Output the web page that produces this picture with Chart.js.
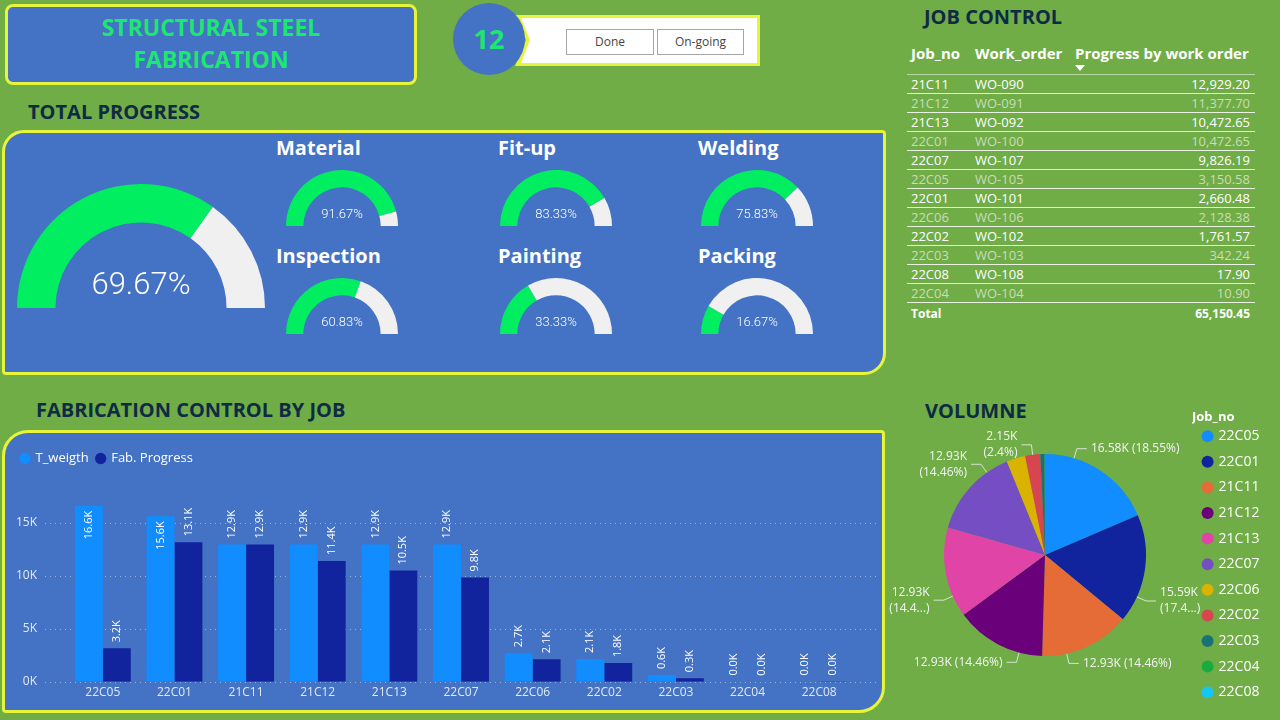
<!DOCTYPE html>
<html>
<head>
<meta charset="utf-8">
<script src="https://cdn.jsdelivr.net/npm/chart.js@4.4.1/dist/chart.umd.min.js"></script>
<style>
  body { margin:0; width:1280px; height:720px; background:#70ad47; position:relative; overflow:hidden; font-family:"Open Sans", sans-serif; }
  .panel { position:absolute; background:#4472c4; border:3px solid #e6f43a; box-sizing:border-box; }
  .head { position:absolute; color:#0f2a44; font-weight:700; font-size:20px; white-space:nowrap; line-height:24px; }
  .lbl { position:absolute; color:#fff; font-weight:700; font-size:20px; line-height:24px; white-space:nowrap; }
  canvas { position:absolute; }
  #title { left:5px; top:4px; width:412px; height:81px; border-radius:8px; color:#1de770; font-weight:700; font-size:23px; line-height:32px; text-align:center; padding-top:4px; }
  #count { position:absolute; left:453px; top:3px; width:72px; height:72px; border-radius:50%; background:#4472c4; color:#1de770; font-weight:700; font-size:27px; line-height:72px; text-align:center; }
  .btn { position:absolute; top:29px; height:26px; box-sizing:border-box; border:1px solid #a6a6a6; background:#fff; color:#444; font-size:12px; line-height:24px; text-align:center; }
  #jobTable { position:absolute; left:907px; top:41px; width:348px; border-collapse:collapse; color:#fff; font-size:13px; }
  #jobTable th { font-weight:700; font-size:15px; text-align:left; height:31px; vertical-align:top; padding:2px 0 0 4px; border-bottom:1px solid rgba(255,255,255,0.5); white-space:nowrap; }
  #jobTable td { height:18px; line-height:18px; padding:0 4px; border-bottom:1px solid rgba(255,255,255,0.85); white-space:nowrap; }
  #jobTable tr.alt td { color:#c9dcbb; }
  #jobTable tr.total td { font-weight:700; border-bottom:none; height:22px; font-size:12px; }
  #jobTable td.num { text-align:right; padding-right:5px; }
  #sortArrow { position:absolute; left:1075px; top:65px; width:0; height:0; border-left:5px solid transparent; border-right:5px solid transparent; border-top:6px solid #fff; }
</style>
</head>
<body>

<div id="title" class="panel">STRUCTURAL STEEL<br>FABRICATION</div>
<svg style="position:absolute;left:0;top:0" width="800" height="80">
  <polygon points="515,15 760,15 760,66 515,66 526,40" fill="#e6f43a"/>
  <polygon points="521,18 757,18 757,63 521,63 530,40" fill="#fff"/>
</svg>
<div id="count">12</div>
<div class="btn" style="left:566px;width:88px">Done</div>
<div class="btn" style="left:657px;width:87px">On-going</div>

<div class="head" style="left:28px;top:100px">TOTAL PROGRESS</div>
<div class="panel" style="left:2px;top:130px;width:884px;height:245px;border-radius:22px 4px 22px 4px"></div>

<div class="head" style="left:36px;top:398px">FABRICATION CONTROL BY JOB</div>
<div class="panel" style="left:2px;top:430px;width:883px;height:283px;border-radius:26px 4px 26px 4px"></div>

<div class="head" style="left:924px;top:5px">JOB CONTROL</div>
<div class="head" style="left:925px;top:399px">VOLUMNE</div>

<canvas id="gaugeTotal" width="248" height="124" style="left:17px;top:184px"></canvas>
<div id="gaugeBox"></div>

<canvas id="barChart" width="877" height="279" style="left:5px;top:440px"></canvas>
<canvas id="pieChart" width="402" height="318" style="left:878px;top:396px"></canvas>

<table id="jobTable"></table>
<div id="sortArrow"></div>

<script>
// ---- data ----
const totalProgress = 69.67;
const gaugeNames = ['Material', 'Fit-up', 'Welding', 'Inspection', 'Painting', 'Packing'];
const gaugeValues = [91.67, 83.33, 75.83, 60.83, 33.33, 16.67];

const jobs = ['22C05', '22C01', '21C11', '21C12', '21C13', '22C07', '22C06', '22C02', '22C03', '22C04', '22C08'];
const tWeight = [16580, 15590, 12929.2, 12929.2, 12929.2, 12929.2, 2690, 2148, 630, 18, 20];
const fabProgress = [3150.58, 13133.13, 12929.2, 11377.7, 10472.65, 9826.19, 2128.38, 1761.57, 342.24, 10.9, 17.9];
const yTicks = [0, 5000, 10000, 15000];
const yMax = 17500;

const tableJobs = ['21C11', '21C12', '21C13', '22C01', '22C07', '22C05', '22C01', '22C06', '22C02', '22C03', '22C08', '22C04'];
const tableOrders = ['WO-090', 'WO-091', 'WO-092', 'WO-100', 'WO-107', 'WO-105', 'WO-101', 'WO-106', 'WO-102', 'WO-103', 'WO-108', 'WO-104'];
const tableProgress = [12929.20, 11377.70, 10472.65, 10472.65, 9826.19, 3150.58, 2660.48, 2128.38, 1761.57, 342.24, 17.90, 10.90];
const tableTotal = 65150.45;

// pie uses T_weigth per job
const pieColors = ['#118dff', '#12239e', '#e66c37', '#6b007b', '#e044a7', '#744ec2', '#d9b300', '#d64550', '#197278', '#1aab40', '#15c6f4'];
// which slices get an outside label, and how it is written
const pieLabelMode = ['one', 'cut', 'one', 'one', 'cut', 'two', null, 'two', null, null, null];
const pieLabelAnchor = [0.25, 0.76, 0.73, 0.255, 0.236, 0.75, null, 0.5, null, null, null];

Chart.defaults.font.family = '"Open Sans", sans-serif';
Chart.defaults.animation = false;

const green = '#00ee5f';
const rest = '#f0f0f0';

// ---- gauges ----
const gaugeText = {
  id: 'gaugeText',
  afterDraw(chart, args, opts) {
    const arc = chart.getDatasetMeta(0).data[0];
    const ctx = chart.ctx;
    ctx.save();
    ctx.font = '300 ' + opts.size + 'px Roboto, sans-serif';
    ctx.fillStyle = '#fff';
    ctx.textAlign = 'center';
    ctx.textBaseline = 'middle';
    ctx.fillText(chart.data.datasets[0].data[0].toFixed(2) + '%', arc.x, arc.y - opts.dy);
    ctx.restore();
  }
};

function makeGauge(canvas, value, size, dy) {
  return new Chart(canvas, {
    type: 'doughnut',
    data: { datasets: [{ data: [value, 100 - value], backgroundColor: [green, rest], borderWidth: 0 }] },
    options: {
      responsive: false,
      rotation: -90,
      circumference: 180,
      cutout: '69%',
      events: [],
      plugins: { legend: { display: false }, tooltip: { enabled: false }, gaugeText: { size: size, dy: dy } }
    },
    plugins: [gaugeText]
  });
}

makeGauge(document.getElementById('gaugeTotal'), totalProgress, 31, 22);

const gaugeCols = [286, 500, 701];
const labelCols = [276, 498, 698];
const gaugeRows = [170, 278];
const box = document.getElementById('gaugeBox');
gaugeNames.forEach((name, i) => {
  const left = gaugeCols[i % 3];
  const top = gaugeRows[Math.floor(i / 3)];
  const lbl = document.createElement('div');
  lbl.className = 'lbl';
  lbl.style.left = labelCols[i % 3] + 'px';
  lbl.style.top = (top - 34) + 'px';
  lbl.textContent = name;
  box.appendChild(lbl);
  const c = document.createElement('canvas');
  c.width = 112; c.height = 56;
  c.style.left = left + 'px';
  c.style.top = top + 'px';
  box.appendChild(c);
  makeGauge(c, gaugeValues[i], 13, 11);
});

// ---- bar chart ----
const legendHeight = {
  id: 'legendHeight',
  beforeInit(chart) {
    const fit = chart.legend.fit;
    chart.legend.fit = function () {
      fit.bind(chart.legend)();
      this.height = 52;
    };
  }
};

const dottedGrid = {
  id: 'dottedGrid',
  beforeDatasetsDraw(chart) {
    const ctx = chart.ctx;
    const y = chart.scales.y;
    ctx.save();
    ctx.strokeStyle = 'rgba(255,255,255,0.45)';
    ctx.setLineDash([1, 4]);
    ctx.lineWidth = 1;
    yTicks.forEach(v => {
      const py = Math.round(y.getPixelForValue(v)) + 0.5;
      ctx.beginPath();
      ctx.moveTo(chart.chartArea.left - 22, py);
      ctx.lineTo(chart.chartArea.right + 22, py);
      ctx.stroke();
    });
    ctx.restore();
  }
};

const barLabels = {
  id: 'barLabels',
  afterDatasetsDraw(chart) {
    const ctx = chart.ctx;
    ctx.save();
    ctx.font = '11px "Open Sans", sans-serif';
    ctx.fillStyle = '#fff';
    ctx.textBaseline = 'middle';
    chart.data.datasets.forEach((ds, di) => {
      chart.getDatasetMeta(di).data.forEach((bar, i) => {
        const txt = (ds.data[i] / 1000).toFixed(1) + 'K';
        const w = ctx.measureText(txt).width;
        ctx.save();
        ctx.translate(bar.x, bar.y);
        ctx.rotate(-Math.PI / 2);
        if (bar.y - 6 - w < chart.chartArea.top) {
          ctx.textAlign = 'right';
          ctx.fillText(txt, -5, 0);
        } else {
          ctx.textAlign = 'left';
          ctx.fillText(txt, 6, 0);
        }
        ctx.restore();
      });
    });
    ctx.restore();
  }
};

new Chart(document.getElementById('barChart'), {
  type: 'bar',
  data: {
    labels: jobs,
    datasets: [
      { label: 'T_weigth', data: tWeight, backgroundColor: '#118dff' },
      { label: 'Fab. Progress', data: fabProgress, backgroundColor: '#12239e' }
    ]
  },
  options: {
    responsive: false,
    events: [],
    layout: { padding: { left: 8, right: 27, top: 4, bottom: 5 } },
    datasets: { bar: { categoryPercentage: 0.78, barPercentage: 1 } },
    scales: {
      x: {
        grid: { display: false, drawTicks: false },
        border: { display: false },
        ticks: { color: '#e3eaf6', font: { size: 12 }, padding: 4 },
        afterFit(s) { s.height = 24; }
      },
      y: {
        min: 0,
        max: yMax,
        grid: { display: false, drawTicks: false },
        border: { display: false },
        afterBuildTicks(s) { s.ticks = yTicks.map(v => ({ value: v })); },
        ticks: { color: '#e3eaf6', font: { size: 12 }, padding: 30, callback: v => (v / 1000) + 'K' },
        afterFit(s) { s.width = 54; }
      }
    },
    plugins: {
      legend: {
        position: 'top',
        align: 'start',
        labels: { usePointStyle: true, pointStyle: 'circle', boxWidth: 8, boxHeight: 8, color: '#fff', font: { size: 13 }, padding: 8 }
      },
      tooltip: { enabled: false }
    }
  },
  plugins: [legendHeight, dottedGrid, barLabels]
});

// ---- pie ----
const legendWidth = {
  id: 'legendWidth',
  beforeInit(chart) {
    const fit = chart.legend.fit;
    chart.legend.fit = function () {
      fit.bind(chart.legend)();
      this.width = 88;
    };
  }
};

function pctText(v, total) {
  return (v / total * 100).toFixed(2).replace(/\.?0+$/, '');
}

const pieLabels = {
  id: 'pieLabels',
  afterDatasetsDraw(chart) {
    const ctx = chart.ctx;
    const data = chart.data.datasets[0].data;
    const total = data.reduce((a, b) => a + b, 0);
    ctx.save();
    ctx.font = '12px "Open Sans", sans-serif';
    ctx.fillStyle = '#f4f4f4';
    ctx.strokeStyle = 'rgba(235,235,235,0.85)';
    ctx.lineWidth = 1;
    ctx.textBaseline = 'middle';
    chart.getDatasetMeta(0).data.forEach((arc, i) => {
      const mode = pieLabelMode[i];
      if (!mode) return;
      const a = arc.startAngle + pieLabelAnchor[i] * (arc.endAngle - arc.startAngle);
      const r = arc.outerRadius;
      const x0 = arc.x + Math.cos(a) * r, y0 = arc.y + Math.sin(a) * r;
      const x1 = arc.x + Math.cos(a) * (r + 10), y1 = arc.y + Math.sin(a) * (r + 10);
      const right = Math.cos(a) >= 0;
      const x2 = x1 + (right ? 10 : -10);
      ctx.beginPath();
      ctx.moveTo(x0, y0);
      ctx.lineTo(x1, y1);
      ctx.lineTo(x2, y1);
      ctx.stroke();
      const k = (data[i] / 1000).toFixed(2) + 'K';
      const p = pctText(data[i], total);
      let lines;
      if (mode === 'one') lines = [k + ' (' + p + '%)'];
      else if (mode === 'two') lines = [k, '(' + p + '%)'];
      else lines = [k, '(' + p.slice(0, 4) + '...)'];
      ctx.textAlign = right ? 'left' : 'right';
      const tx = x2 + (right ? 4 : -4);
      lines.forEach((ln, j) => {
        ctx.fillText(ln, tx, y1 + (j - (lines.length - 1) / 2) * 16);
      });
    });
    ctx.restore();
  }
};

new Chart(document.getElementById('pieChart'), {
  type: 'pie',
  data: {
    labels: jobs,
    datasets: [{ data: tWeight, backgroundColor: pieColors, borderWidth: 0, radius: 101 }]
  },
  options: {
    responsive: false,
    events: [],
    layout: { padding: { left: 20 } },
    plugins: {
      legend: {
        position: 'right',
        align: 'start',
        title: { display: true, text: 'Job_no', color: '#fff', font: { size: 13, weight: 'bold' }, position: 'start', padding: { top: 15, bottom: -9 } },
        labels: { usePointStyle: true, pointStyle: 'circle', boxWidth: 8, boxHeight: 8.5, color: '#fff', font: { size: 14 }, padding: 11.6 }
      },
      tooltip: { enabled: false }
    }
  },
  plugins: [legendWidth, pieLabels]
});

// ---- table ----
const fmt = v => v.toLocaleString('en-US', { minimumFractionDigits: 2, maximumFractionDigits: 2 });
const tbl = document.getElementById('jobTable');
let html = '<tr><th style="width:60px">Job_no</th><th style="width:96px">Work_order</th><th>Progress by work order</th></tr>';
tableJobs.forEach((j, i) => {
  html += '<tr class="' + (i % 2 ? 'alt' : '') + '"><td>' + j + '</td><td>' + tableOrders[i] + '</td><td class="num">' + fmt(tableProgress[i]) + '</td></tr>';
});
html += '<tr class="total"><td>Total</td><td></td><td class="num">' + fmt(tableTotal) + '</td></tr>';
tbl.innerHTML = html;
</script>
</body>
</html>
